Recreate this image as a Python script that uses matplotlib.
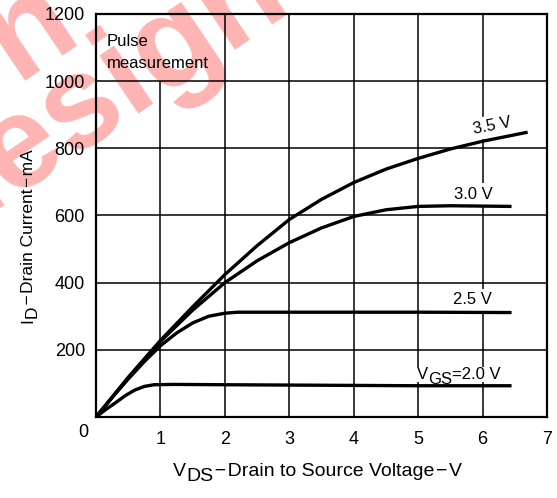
import numpy as np
import matplotlib
matplotlib.use("Agg")
import matplotlib.pyplot as plt

plt.rcParams["font.family"] = ["Liberation Sans", "DejaVu Sans"]

# drain voltage (V) and drain current (mA)
vds_20 = [0, 0.15, 0.3, 0.45, 0.6, 0.75, 0.9, 1.2, 2.0, 3.0, 4.0, 5.0, 6.45]
id_20 = [0, 22, 42, 63, 80, 91, 96, 97, 96, 95, 94, 93, 93]

vds_25 = [0, 0.25, 0.5, 0.75, 1.0, 1.25, 1.5, 1.75, 2.0, 2.2, 3.0, 4.0, 5.0, 6.45]
id_25 = [0, 58, 113, 165, 212, 250, 280, 300, 309, 312, 312, 312, 312, 311]

vds_30 = [0, 0.5, 1.0, 1.5, 2.0, 2.5, 3.0, 3.5, 4.0, 4.5, 5.0, 5.5, 6.45]
id_30 = [0, 117, 225, 318, 400, 465, 519, 563, 597, 617, 627, 629, 627]

vds_35 = [0, 0.5, 1.0, 1.5, 2.0, 2.5, 3.0, 3.5, 4.0, 4.5, 5.0, 5.5, 6.0, 6.7]
id_35 = [0, 118, 228, 328, 424, 510, 588, 648, 698, 738, 770, 798, 821, 848]

curves = [(vds_20, id_20), (vds_25, id_25), (vds_30, id_30), (vds_35, id_35)]
labels = ["2.5 V", "3.0 V", "3.5 V"]
label_pos = [(5.85, 349), (5.85, 663), (6.15, 866)]
label_rot = [0, 0, 11]

x_ticks = [1, 2, 3, 4, 5, 6, 7]
y_ticks = [200, 400, 600, 800, 1000, 1200]

DASH = "\u200a\u2212\u200a"


def chain_text(ax, x, y, parts, transform, fontsize, rotation=0, drop=3.6, **kw):
    # writes parts one after another; parts marked True sit lower like a subscript
    # (the original uses full size subscripts, so mathtext is not used)
    t = ax.annotate(parts[0][0], xy=(x, y), xycoords=transform, fontsize=fontsize,
                    rotation=rotation, rotation_mode="anchor", ha="left", va="bottom",
                    annotation_clip=False, **kw)
    prev_sub = parts[0][1]
    for s, sub in parts[1:]:
        shift = 0
        if sub and not prev_sub:
            shift = -drop
        elif prev_sub and not sub:
            shift = drop
        if rotation == 0:
            xy, off = (1, 0), (0, shift)
        else:
            xy, off = (1, 1), (-shift, 0)
        t = ax.annotate(s, xy=xy, xycoords=t, xytext=off, textcoords="offset points",
                        fontsize=fontsize, rotation=rotation, rotation_mode="anchor",
                        ha="left", va="bottom", annotation_clip=False, **kw)
        prev_sub = sub
    return t


fig = plt.figure(figsize=(5.57, 4.98), dpi=100)
ax = fig.add_axes([0.1724, 0.1627, 0.8096, 0.8092])
ax.patch.set_alpha(0)

# watermark behind the chart
wm = dict(color="#ffb4b4", fontsize=94, fontweight="bold", rotation=34,
          rotation_mode="anchor", ha="center", va="center", zorder=-5)
fig.text(0.181, 0.807, "design", **wm)
fig.text(0.054, 0.94, "n", **wm)

ax.set_xlim(0, 7)
ax.set_ylim(0, 1200)

# grid: the x=1 line stops under the "Pulse measurement" box
for x in x_ticks[:-1]:
    top = 1000 if x == 1 else 1200
    ax.vlines(x, 0, top, color="black", lw=1.1, zorder=1)
for y in y_ticks[:-1]:
    ax.hlines(y, 0, 7, color="black", lw=1.1, zorder=1)

for xs, ys in curves:
    ax.plot(xs, ys, color="black", lw=2.4, solid_capstyle="butt",
            solid_joinstyle="round", zorder=3)

# labels sit under the curves but over the grid
box = dict(facecolor="white", edgecolor="none", pad=2.5)
for lab, (lx, ly), rot in zip(labels, label_pos, label_rot):
    ax.text(lx, ly, lab, fontsize=12, ha="center", va="center", rotation=rot, zorder=2, bbox=box)
chain_text(ax, 4.98, 104, [("V", False), ("GS", True), ("=2.0 V", False)],
           ax.transData, 12, drop=3.4, zorder=2,
           bbox=dict(facecolor="white", edgecolor="none", pad=0.3))

ax.text(0.17, 1140, "Pulse\nmeasurement", fontsize=12, ha="left", va="top", linespacing=1.6)

for s in ax.spines.values():
    s.set_linewidth(1.6)

ax.set_xticks(x_ticks)
ax.set_yticks(y_ticks)
ax.tick_params(axis="both", length=0, labelsize=13, pad=8)
ax.tick_params(axis="x", pad=10)
ax.text(-0.2, -45, "0", fontsize=13, ha="center", va="center")

chain_text(ax, 0.311, 0.036,
           [("V", False), ("DS", True), (DASH + "Drain to Source Voltage" + DASH + "V", False)],
           fig.transFigure, 14)
chain_text(ax, 0.064, 0.351,
           [("I", False), ("D", True), (DASH + "Drain Current" + DASH + "mA", False)],
           fig.transFigure, 12.5, rotation=90, drop=3.0)

fig.savefig("out.png", dpi=100)
